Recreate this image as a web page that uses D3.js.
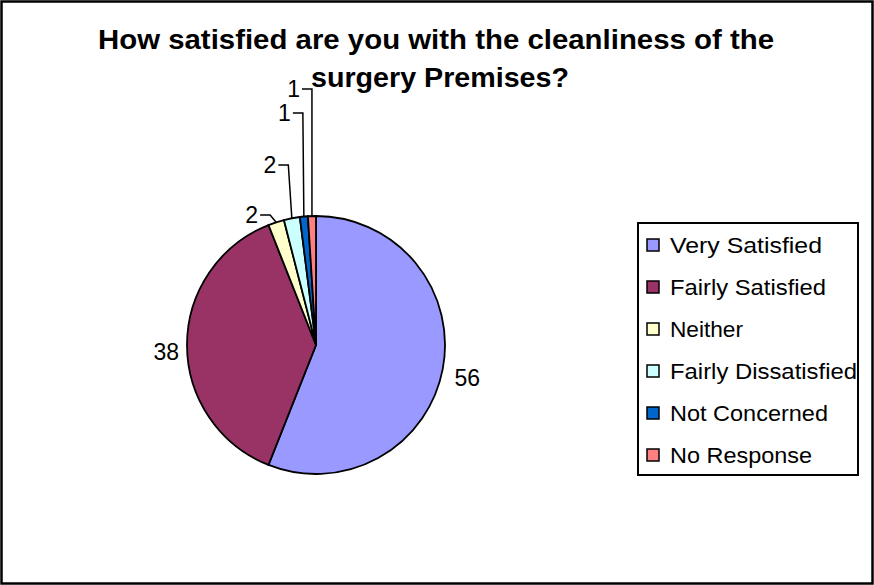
<!DOCTYPE html>
<head>
    <meta charset="utf-8">
    <script src="https://d3js.org/d3.v7.min.js"></script>
    <style>
        body {
            margin: 0;
            background: white;
            font-family: Arial, "Liberation Sans", sans-serif;
        }

        .slice {
            stroke: black;
            stroke-width: 1.8px;
        }

        .leader {
            fill: none;
            stroke: black;
            stroke-width: 1.5px;
        }

        .value-label {
            font-size: 23px;
            fill: black;
        }

        .title {
            font-size: 27px;
            font-weight: bold;
        }

        .legend-box {
            fill: white;
            stroke: black;
            stroke-width: 2px;
        }

        .legend-key {
            stroke: black;
            stroke-width: 1.5px;
        }

        .legend-text {
            font-size: 22px;
        }
    </style>
</head>

<body>
<script>
    // chart data
    var categories = ["Very Satisfied", "Fairly Satisfied", "Neither", "Fairly Dissatisfied", "Not Concerned", "No Response"];
    var counts = [56, 38, 2, 2, 1, 1];
    var colours = ["#9999FF", "#993366", "#FFFFCC", "#CCFFFF", "#0066CC", "#FF8080"];
    var titleLines = ["How satisfied are you with the cleanliness of the", "surgery Premises?"];

    // layout only
    var W = 874, H = 585;
    var cx = 316, cy = 345, radius = 129;
    var leaderY = [null, null, 215, 165, 113, 89];   // elbow height for the small slices
    var leaderShift = [0, 0, 6, 3.5, 1, 0];
    var titleWidths = [676, 258];
    var legendWidths = [152, 156, 73, 187, 158, 142];

    var svg = d3.select("body").append("svg")
        .attr("width", W)
        .attr("height", H);

    // outer frame
    svg.append("rect")
        .attr("x", 1.5).attr("y", 1.5)
        .attr("width", W - 3).attr("height", H - 3)
        .attr("fill", "white")
        .attr("stroke", "black")
        .attr("stroke-width", 2.5);

    var rows = categories.map(function(c, i) {
        return {name: c, value: counts[i], colour: colours[i], i: i};
    });

    var pie = d3.pie()
        .sort(null)
        .value(function(d) { return d.value; });

    var arc = d3.arc()
        .innerRadius(0)
        .outerRadius(radius);

    var arcs = pie(rows);

    var g = svg.append("g")
        .attr("transform", "translate(" + cx + "," + cy + ")");

    g.selectAll("path.slice")
        .data(arcs)
        .enter().append("path")
        .attr("class", "slice")
        .attr("fill", function(d) { return d.data.colour; })
        .attr("d", arc);

    function edgePoint(d, r) {
        var a = (d.startAngle + d.endAngle) / 2;
        return [r * Math.sin(a), -r * Math.cos(a)];
    }

    // big slices: label just outside the rim
    var big = arcs.filter(function(d) { return leaderY[d.data.i] == null; });
    g.selectAll("text.big")
        .data(big)
        .enter().append("text")
        .attr("class", "value-label big")
        .attr("x", function(d) {
            var p = edgePoint(d, radius + 12);
            return p[0] < 0 ? p[0] + 4 : p[0];
        })
        .attr("y", function(d) { return edgePoint(d, radius + 12)[1] + 15; })
        .attr("text-anchor", function(d) { return edgePoint(d, 1)[0] < 0 ? "end" : "start"; })
        .text(function(d) { return d.data.value; });

    // small slices: leader lines up to the labels
    var small = arcs.filter(function(d) { return leaderY[d.data.i] != null; });
    var line = d3.line();

    small.forEach(function(d) {
        var p = edgePoint(d, radius);
        var ex = p[0] - leaderShift[d.data.i];
        var ey = leaderY[d.data.i] - cy;
        g.append("path")
            .attr("class", "leader")
            .attr("d", line([p, [ex, ey], [ex - 10, ey]]));
        g.append("text")
            .attr("class", "value-label")
            .attr("x", ex - 12)
            .attr("y", ey + 8)
            .attr("text-anchor", "end")
            .text(d.data.value);
    });

    // title
    svg.append("g").selectAll("text")
        .data(titleLines)
        .enter().append("text")
        .attr("class", "title")
        .attr("x", function(d, i) { return i == 0 ? 98 : 311; })
        .attr("y", function(d, i) { return 49 + i * 38; })
        .attr("textLength", function(d, i) { return titleWidths[i]; })
        .attr("lengthAdjust", "spacingAndGlyphs")
        .text(function(d) { return d; });

    // legend
    var legend = svg.append("g");
    legend.append("rect")
        .attr("class", "legend-box")
        .attr("x", 638).attr("y", 223)
        .attr("width", 220).attr("height", 252);

    var items = legend.selectAll("g.item")
        .data(rows)
        .enter().append("g")
        .attr("class", "item")
        .attr("transform", function(d, i) { return "translate(647," + (245 + i * 42) + ")"; });

    items.append("rect")
        .attr("class", "legend-key")
        .attr("x", 0).attr("y", -6)
        .attr("width", 12).attr("height", 12)
        .attr("fill", function(d) { return d.colour; });

    items.append("text")
        .attr("class", "legend-text")
        .attr("x", 23)
        .attr("y", 8)
        .attr("textLength", function(d) { return legendWidths[d.i]; })
        .attr("lengthAdjust", "spacingAndGlyphs")
        .text(function(d) { return d.name; });
</script>
</body>
</html>
